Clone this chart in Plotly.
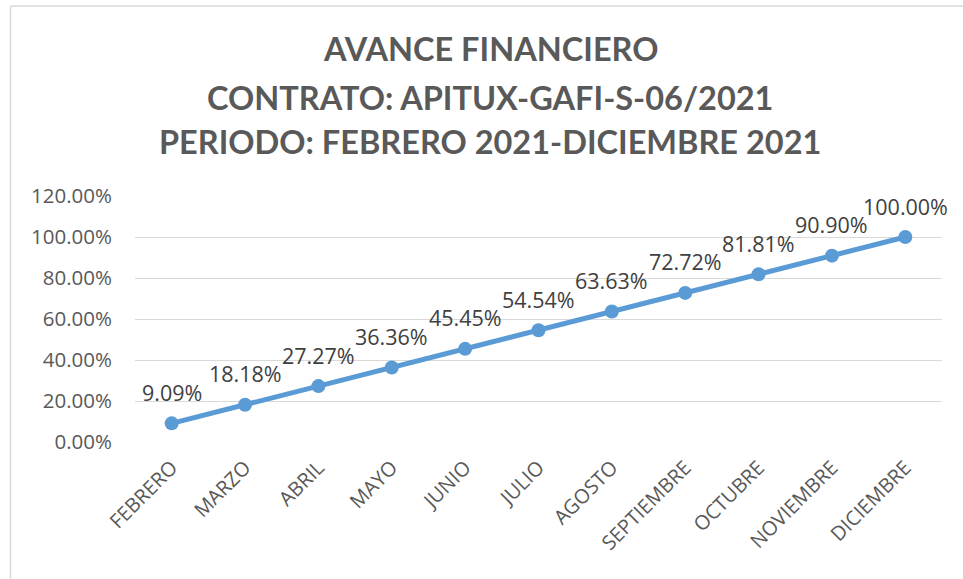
import plotly.graph_objects as go

meses = ["FEBRERO", "MARZO", "ABRIL", "MAYO", "JUNIO", "JULIO", "AGOSTO",
         "SEPTIEMBRE", "OCTUBRE", "NOVIEMBRE", "DICIEMBRE"]
avance = [9.09, 18.18, 27.27, 36.36, 45.45, 54.54, 63.63, 72.72, 81.81, 90.90, 100.00]
y_ticks = [0, 20, 40, 60, 80, 100, 120]
y_tick_labels = ["0.00%", "20.00%", "40.00%", "60.00%", "80.00%", "100.00%", "120.00%"]
titulo = ["AVANCE FINANCIERO", "CONTRATO: APITUX-GAFI-S-06/2021",
          "PERIODO: FEBRERO 2021-DICIEMBRE 2021"]

W, H = 963, 579
ML, MR, MT, MB = 135, 21, 196, 137
plot_h = H - MT - MB
plot_w = W - ML - MR

def py(p):
    return (H - MB - p) / plot_h

def px(p):
    return (p - ML) / plot_w

BLUE = "#5B9BD5"
FONT = "Open Sans, DejaVu Sans, sans-serif"

fig = go.Figure()
fig.add_trace(go.Scatter(
    x=meses, y=avance, mode="lines+markers",
    line=dict(color=BLUE, width=5),
    marker=dict(color=BLUE, size=14),
    hoverinfo="skip", showlegend=False,
))

annotations = []
for m, v in zip(meses, avance):
    annotations.append(dict(
        x=m, y=v, xref="x", yref="y", text=f"{v:.2f}%", showarrow=False,
        yshift=31, font=dict(family=FONT, size=21.5, color="#404040"),
        xanchor="center", yanchor="middle",
    ))
for txt, ypix in zip(titulo, [48, 98, 141]):
    annotations.append(dict(
        x=px(490), y=py(ypix), xref="paper", yref="paper", text=f"<b>{txt}</b>",
        showarrow=False, xanchor="center", yanchor="middle",
        font=dict(family="Lato, Open Sans, sans-serif", size=32.5, color="#595959"),
    ))

shapes = [
    dict(type="line", xref="paper", yref="paper", x0=px(10.5), x1=px(W + 5),
         y0=py(6), y1=py(6), line=dict(color="#D9D9D9", width=1.5)),
    dict(type="line", xref="paper", yref="paper", x0=px(10.5), x1=px(10.5),
         y0=py(6), y1=py(H + 5), line=dict(color="#D9D9D9", width=1.5)),
]

fig.update_layout(
    width=W, height=H,
    margin=dict(l=ML, r=MR, t=MT, b=MB),
    paper_bgcolor="white", plot_bgcolor="white",
    annotations=annotations, shapes=shapes,
    xaxis=dict(
        type="category", range=[-0.5, len(meses) - 0.5],
        tickangle=-45, showgrid=False, zeroline=False, showline=False,
        ticks="", tickfont=dict(family=FONT, size=20, color="#595959"),
        ticklabelstandoff=9,
    ),
    yaxis=dict(
        range=[0, 120], tickvals=y_ticks, ticktext=y_tick_labels,
        showgrid=True, gridcolor="#D9D9D9", gridwidth=1.3,
        zeroline=False, showline=False, ticks="",
        tickfont=dict(family=FONT, size=20.5, color="#595959"),
        ticklabelstandoff=22,
    ),
)

fig.write_html("out.html", config={"displayModeBar": False},
               post_script="document.body.style.margin='0';document.body.style.overflow='hidden';")
